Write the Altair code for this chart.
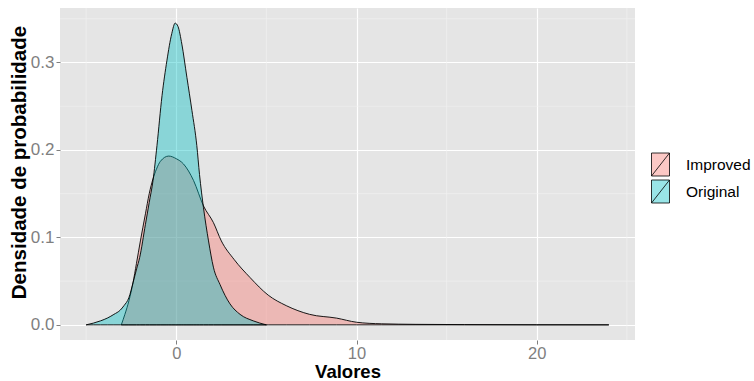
import altair as alt
import pandas as pd

# Density curves
orig_x = [-5.0, -4.6, -4.2, -3.8, -3.46, -3.1, -2.9, -2.63, -2.4, -2.2, -2.03, -1.71, -1.5, -1.29,
          -1.07, -0.79, -0.52, -0.25, -0.06, 0.1, 0.31, 0.59, 0.87, 1.14, 1.29, 1.51, 1.79, 2.06,
          2.43, 2.98, 3.54, 4.27, 5.0]
orig_y = [0.0, 0.002, 0.0046, 0.008, 0.012, 0.017, 0.022, 0.031, 0.048, 0.064, 0.077, 0.115, 0.14, 0.165,
          0.205, 0.262, 0.302, 0.333, 0.345, 0.341, 0.321, 0.283, 0.245, 0.205, 0.172, 0.134, 0.096, 0.066,
          0.046, 0.024, 0.012, 0.0046, 0.0]

imp_x = [-3.05, -2.85, -2.62, -2.4, -2.21, -1.99, -1.71, -1.5, -1.29, -1.1, -0.88, -0.42, 0.0, 0.4,
         0.96, 1.51, 2.06, 2.5, 3.2, 4.1, 5.1, 6.1, 7.4, 8.9, 10.0, 11.4, 13.3, 16.0, 20.0, 24.0]
imp_y = [0.0, 0.012, 0.028, 0.048, 0.07, 0.096, 0.127, 0.150, 0.167, 0.178, 0.187, 0.193, 0.19, 0.184,
         0.165, 0.136, 0.117, 0.096, 0.075, 0.054, 0.034, 0.022, 0.012, 0.0077, 0.003, 0.0012, 0.0006,
         0.0003, 0.0001, 0.0]

groups = ["Improved", "Original"]
group_colors = ["rgba(248,118,109,0.4)", "rgba(0,191,196,0.4)"]

x_ticks = [0, 10, 20]
y_ticks = [0.0, 0.1, 0.2, 0.3]
minor_x = [-5, 5, 15, 25]
minor_y = [0.05, 0.15, 0.25, 0.35]

df_imp = pd.DataFrame({"Valores": imp_x, "dens": imp_y, "grupo": "Improved"})
df_orig = pd.DataFrame({"Valores": orig_x, "dens": orig_y, "grupo": "Original"})

x_scale = alt.Scale(domain=[-6.45, 25.45], nice=False, zero=False)
y_scale = alt.Scale(domain=[-0.0173, 0.3623], nice=False, zero=False)

x_axis = alt.Axis(values=x_ticks, title="Valores", grid=True, gridColor="white", gridWidth=1.2,
                  domain=False, tickColor="#7F7F7F", tickSize=4, labelColor="#7F7F7F",
                  labelFontSize=16.5, labelPadding=1, labelFont="Liberation Sans",
                  titleFont="Liberation Sans", titleFontSize=18.5, titleFontWeight="bold",
                  titleColor="black", titleBaseline="alphabetic", titleY=37)
y_axis = alt.Axis(values=y_ticks, format=".1f", title="Densidade de probabilidade", grid=True,
                  gridColor="white", gridWidth=1.2, domain=False, tickColor="#7F7F7F", tickSize=4,
                  labelColor="#7F7F7F", labelFontSize=17, labelPadding=2, labelFont="Liberation Sans",
                  titleFont="Liberation Sans", titleFontSize=20.5, titleFontWeight="bold",
                  titleColor="black", titleBaseline="alphabetic", titleX=-35, titleY=154, titleAngle=270)

color = alt.Color("grupo:N", scale=alt.Scale(domain=groups, range=group_colors),
                  legend=alt.Legend(title=None, orient="none", legendX=590, legendY=146,
                                    symbolType="M-0.9,-1.15H0.9V1.15H-0.9Z M-0.9,1.15L0.9,-1.15",
                                    symbolSize=400, symbolStrokeColor="black", symbolStrokeWidth=0.8,
                                    rowPadding=0, labelOffset=15, labelFontSize=15.5,
                                    labelFont="Liberation Sans", labelColor="black", padding=0))

minor_v = alt.Chart(pd.DataFrame({"mx": minor_x})).mark_rule(color="#F2F2F2", strokeWidth=0.6).encode(
    x=alt.X("mx:Q", scale=x_scale, axis=x_axis)
)
minor_h = alt.Chart(pd.DataFrame({"my": minor_y})).mark_rule(color="#F2F2F2", strokeWidth=0.6).encode(
    y=alt.Y("my:Q", scale=y_scale, axis=y_axis)
)

def area(df):
    return alt.Chart(df).mark_area(stroke="black", strokeWidth=0.9, interpolate="monotone").encode(
        x=alt.X("Valores:Q", scale=x_scale, axis=x_axis),
        y=alt.Y("dens:Q", scale=y_scale, axis=y_axis),
        color=color,
    )

chart = alt.layer(minor_v, minor_h, area(df_imp), area(df_orig)).properties(
    width=575, height=332,
    autosize=alt.AutoSizeParams(type="none"),
    padding={"left": 60, "top": 8, "right": 119, "bottom": 41},
    background="white",
).configure_view(fill="#E5E5E5", stroke=None)

chart.save("out.html", embed_options={"renderer": "svg", "actions": False})
